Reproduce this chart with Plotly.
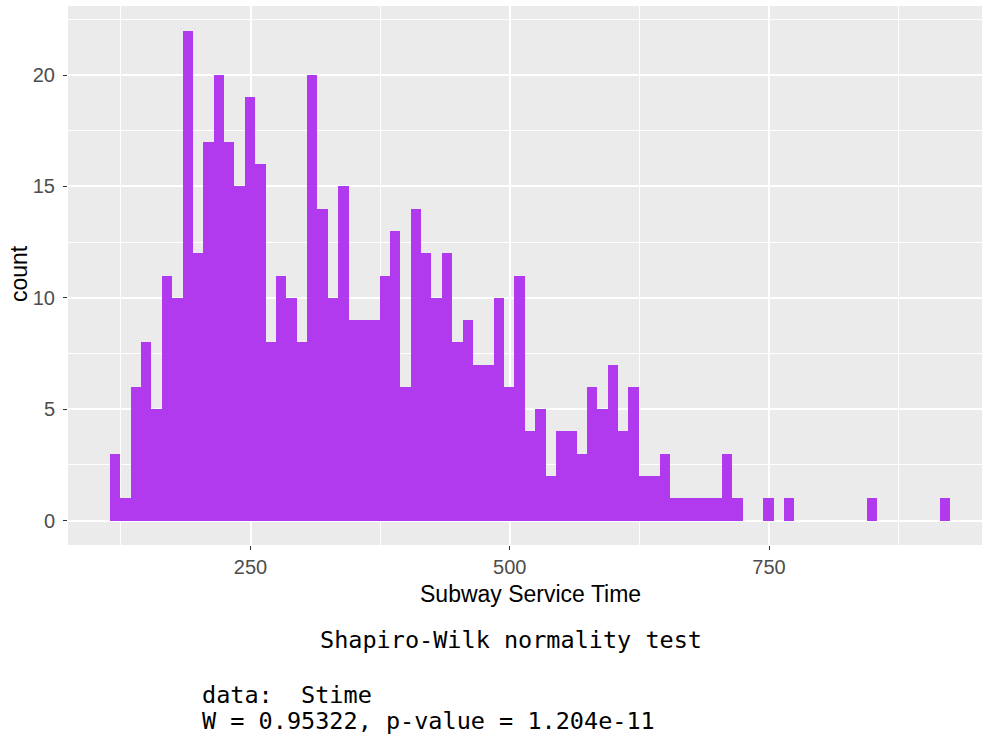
import numpy as np
import plotly.graph_objects as go

# Histogram data (binwidth 10)
bin_start = 114.5
bin_width = 10
counts = [3, 1, 6, 8, 5, 11, 10, 22, 12, 17,
          20, 17, 15, 19, 16, 8, 11, 10, 8, 20,
          14, 10, 15, 9, 9, 9, 11, 13, 6, 14,
          12, 10, 12, 8, 9, 7, 7, 10, 6, 11,
          4, 5, 2, 4, 4, 3, 6, 5, 7, 4,
          6, 2, 2, 3, 1, 1, 1, 1, 1, 3,
          1, 0, 0, 1, 0, 1, 0, 0, 0, 0,
          0, 0, 0, 1, 0, 0, 0, 0, 0, 0,
          1]
bin_centers = [bin_start + bin_width * (i + 0.5) for i in range(len(counts))]

x_ticks = [250, 500, 750]
y_ticks = [0, 5, 10, 15, 20]

x_title = "Subway Service Time"
y_title = "count"
test_title = "Shapiro-Wilk normality test"
test_lines = ["data:  Stime", "W = 0.95322, p-value = 1.204e-11"]

W, H = 982, 738
L, R, T, B = 68, 0, 6, 193
pw = W - L - R
ph = H - T - B

def px(x):
    return (x - L) / pw

def py(y):
    return (H - B - y) / ph

fig = go.Figure()
fig.add_trace(go.Bar(
    x=bin_centers, y=counts, width=bin_width,
    marker=dict(color="#B23AEE", line=dict(width=0)),
    hoverinfo="x+y",
))

axis_common = dict(
    showgrid=True, gridcolor="white", gridwidth=2,
    zeroline=False, showline=False,
    ticks="outside", ticklen=4, tickwidth=1, tickcolor="#333333",
    tickfont=dict(family="Liberation Sans, Arial", size=20, color="#4D4D4D"),
)

fig.update_layout(
    width=W, height=H,
    margin=dict(l=L, r=R, t=T, b=B, pad=0),
    paper_bgcolor="white", plot_bgcolor="#EBEBEB",
    bargap=0, showlegend=False,
    xaxis=dict(range=[74.0, 955.4], tickmode="array", tickvals=x_ticks,
               ticktext=[str(v) for v in x_ticks],
               minor=dict(showgrid=True, gridcolor="white", gridwidth=1,
                          tickmode="array", tickvals=[125, 375, 625, 875], ticks=""),
               **axis_common),
    yaxis=dict(range=[-1.1, 23.1], tickmode="array", tickvals=y_ticks,
               ticktext=[str(v) for v in y_ticks],
               minor=dict(showgrid=True, gridcolor="white", gridwidth=1,
                          tickmode="array", tickvals=[2.5, 7.5, 12.5, 17.5, 22.5], ticks=""),
               ticklabelstandoff=4,
               **axis_common),
)

ann_font = dict(family="Liberation Sans, Arial", size=23, color="black")
mono = dict(family="DejaVu Sans Mono, monospace", size=23.5, color="black")
annotations = [
    dict(text=x_title, x=px(530), y=py(594), font=ann_font),
    dict(text=y_title, x=px(19), y=py(274), font=ann_font, textangle=-90),
    dict(text=test_title, x=px(511), y=py(640), font=mono),
    dict(text=test_lines[0], x=px(200), y=py(695), font=mono, xanchor="left"),
    dict(text=test_lines[1], x=px(200), y=py(721), font=mono, xanchor="left"),
]
for a in annotations:
    a.setdefault("xanchor", "center")
    fig.add_annotation(xref="paper", yref="paper", yanchor="middle",
                       showarrow=False, **a)

fig.write_html("out.html")
